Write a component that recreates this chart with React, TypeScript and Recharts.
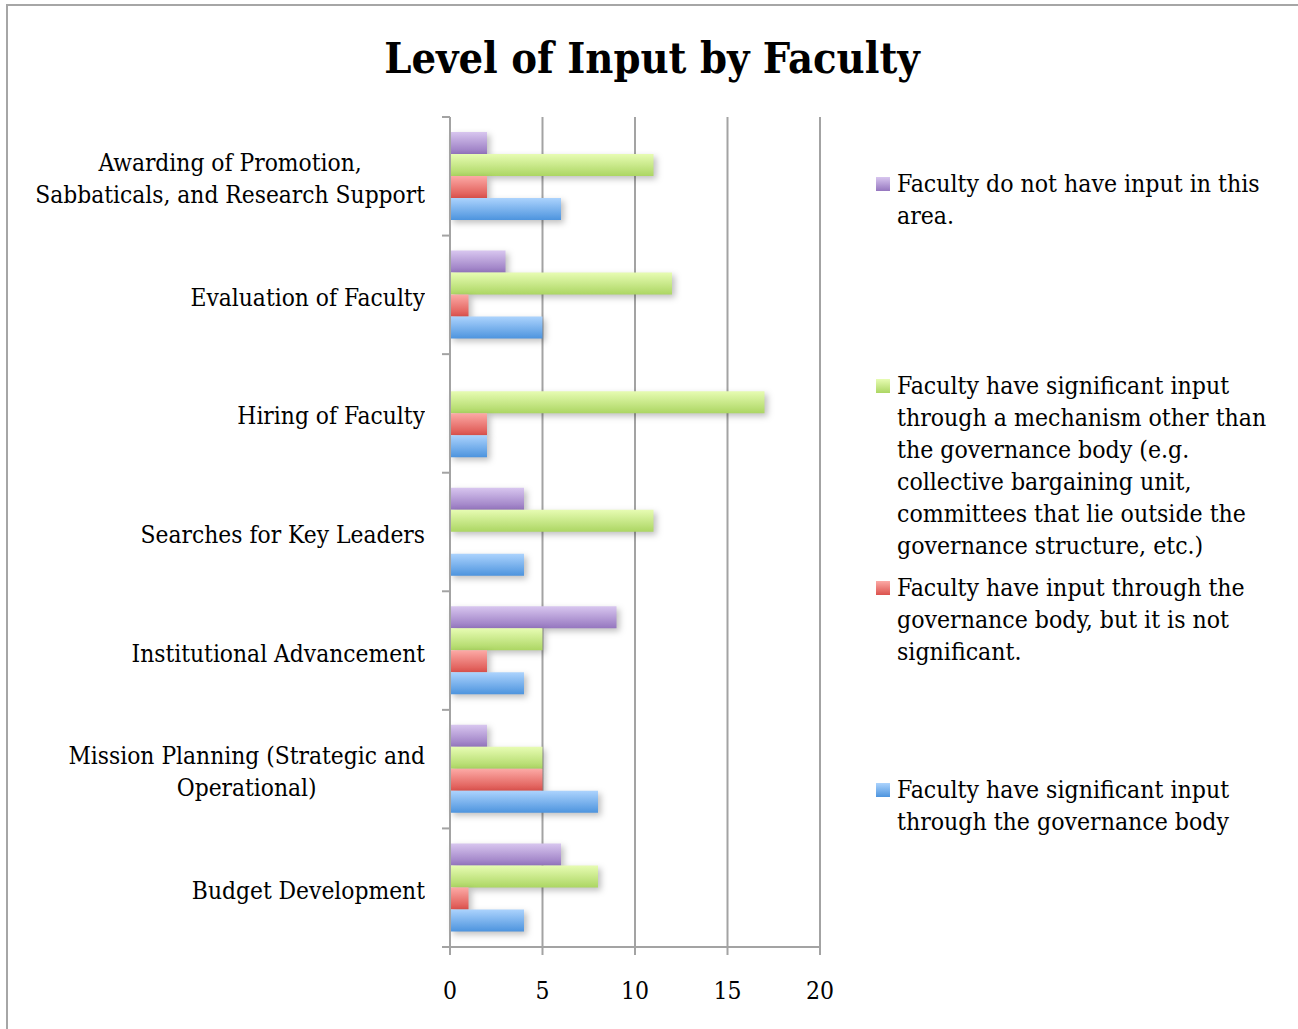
import React from 'react';
import { BarChart, Bar, XAxis, YAxis, CartesianGrid, Legend } from 'recharts';

// categories top to bottom, '\n' marks the label line break
const categories = [
  'Awarding of Promotion,\nSabbaticals, and Research Support',
  'Evaluation of Faculty',
  'Hiring of Faculty',
  'Searches for Key Leaders',
  'Institutional Advancement',
  'Mission Planning (Strategic and\nOperational)',
  'Budget Development',
];

const noInput = [2, 3, 0, 4, 9, 2, 6];
const otherMechanism = [11, 12, 17, 11, 5, 5, 8];
const notSignificant = [2, 1, 2, 0, 2, 5, 1];
const governanceBody = [6, 5, 2, 4, 4, 8, 4];

const xTicks = [0, 5, 10, 15, 20];

const seriesKeys = ['noInput', 'otherMechanism', 'notSignificant', 'governanceBody'];
const seriesNames = [
  'Faculty do not have input in this\narea.',
  'Faculty have significant input\nthrough a mechanism other than\nthe governance body (e.g.\ncollective bargaining unit,\ncommittees that lie outside the\ngovernance structure, etc.)',
  'Faculty have input through the\ngovernance body, but it is not\nsignificant.',
  'Faculty have significant input\nthrough the governance body',
];

const data = categories.map((name, i) => ({
  name,
  noInput: noInput[i],
  otherMechanism: otherMechanism[i],
  notSignificant: notSignificant[i],
  governanceBody: governanceBody[i],
}));

const FONT = '"DejaVu Serif Condensed", "DejaVu Serif", serif';
const GRID = '#a3a3a3';
const PLOT_TOP = 117;
const PLOT_BOTTOM = 947;
const BAND = (PLOT_BOTTOM - PLOT_TOP) / categories.length;

const gradients = [
  { id: 'gPurple', top: '#d8c6ef', bottom: '#9576bf' },
  { id: 'gGreen', top: '#e7fcb3', bottom: '#acd663' },
  { id: 'gRed', top: '#fcaaa6', bottom: '#dc524d' },
  { id: 'gBlue', top: '#acd3fd', bottom: '#4d94de' },
];

const CategoryTick = (props: any) => {
  const { x, y, payload, index } = props;
  const lines = String(payload.value).split('\n');
  return (
    <g>
      <line x1={x - 8} x2={x} y1={y - BAND / 2} y2={y - BAND / 2} stroke={GRID} strokeWidth={2} />
      {index === categories.length - 1 && (
        <line x1={x - 8} x2={x} y1={y + BAND / 2} y2={y + BAND / 2} stroke={GRID} strokeWidth={2} />
      )}
      <foreignObject x={0} y={y - 50} width={x - 25} height={100}>
        <div
          style={{
            height: '100%',
            display: 'flex',
            alignItems: 'center',
            justifyContent: 'flex-end',
            paddingTop: 6,
            boxSizing: 'border-box',
          }}
        >
          <div style={{ textAlign: 'center', fontFamily: FONT, fontSize: 24.3, lineHeight: '32px', color: '#000', whiteSpace: 'nowrap' }}>
            {lines.map((l, k) => (
              <div key={k}>{l}</div>
            ))}
          </div>
        </div>
      </foreignObject>
    </g>
  );
};

const renderLegend = (props: any) => {
  const { payload } = props;
  return (
    <div style={{ fontFamily: FONT, fontSize: 24.6, lineHeight: '32px', color: '#000' }}>
      {payload.map((entry: any, i: number) => {
        const g = gradients[seriesKeys.indexOf(entry.dataKey)];
        return (
          <div key={i} style={{ height: 202, display: 'flex', alignItems: 'flex-start' }}>
            <div
              style={{
                width: 14,
                height: 14,
                marginTop: 9,
                marginRight: 7,
                flex: 'none',
                background: `linear-gradient(${g.top}, ${g.bottom})`,
              }}
            />
            <div style={{ whiteSpace: 'nowrap' }}>
              {String(entry.value)
                .split('\n')
                .map((l, k) => (
                  <div key={k}>{l}</div>
                ))}
            </div>
          </div>
        );
      })}
    </div>
  );
};

export default function App() {
  return (
    <div>
      <style>{`.recharts-bar-rectangle path { filter: drop-shadow(3px 3px 3px rgba(0,0,0,0.25)); }`}</style>
      <div
        style={{
          position: 'absolute',
          left: 6,
          top: 4,
          width: 1310,
          height: 1040,
          border: '2px solid #a6a6a6',
          boxSizing: 'border-box',
          background: '#fff',
        }}
      />
      <div
        style={{
          position: 'absolute',
          left: 0,
          top: 37,
          width: 1304,
          textAlign: 'center',
          fontFamily: FONT,
          fontWeight: 'bold',
          fontSize: 43,
          lineHeight: 1,
          color: '#000',
        }}
      >
        Level of Input by Faculty
      </div>
      <div style={{ position: 'absolute', left: 0, top: 0 }}>
        <BarChart
          layout="vertical"
          width={1298}
          height={1029}
          data={data}
          margin={{ top: PLOT_TOP, right: 478, bottom: 1029 - PLOT_BOTTOM - 60, left: 0 }}
          barSize={22}
          barGap={0}
        >
          <defs>
            {gradients.map((g) => (
              <linearGradient key={g.id} id={g.id} x1="0" y1="0" x2="0" y2="1">
                <stop offset="0%" stopColor={g.top} />
                <stop offset="100%" stopColor={g.bottom} />
              </linearGradient>
            ))}
          </defs>
          <CartesianGrid horizontal={false} stroke={GRID} strokeWidth={2} />
          <XAxis
            type="number"
            domain={[0, 20]}
            ticks={xTicks}
            height={60}
            tickSize={8}
            tickMargin={27}
            axisLine={{ stroke: GRID, strokeWidth: 2 }}
            tickLine={{ stroke: GRID, strokeWidth: 2 }}
            tick={{ fill: '#000', fontSize: 24.5, fontFamily: FONT }}
          />
          <YAxis
            type="category"
            dataKey="name"
            width={450}
            tickSize={0}
            tickMargin={0}
            interval={0}
            axisLine={{ stroke: GRID, strokeWidth: 2 }}
            tickLine={false}
            tick={<CategoryTick />}
          />
          <Legend
            content={renderLegend}
            itemSorter={(item: any) => seriesKeys.indexOf(item.dataKey)}
            wrapperStyle={{ position: 'absolute', left: 876, top: 168, width: 420, height: 0, overflow: 'visible' }}
          />
          <Bar dataKey="noInput" name={seriesNames[0]} fill="url(#gPurple)" isAnimationActive={false} />
          <Bar dataKey="otherMechanism" name={seriesNames[1]} fill="url(#gGreen)" isAnimationActive={false} />
          <Bar dataKey="notSignificant" name={seriesNames[2]} fill="url(#gRed)" isAnimationActive={false} />
          <Bar dataKey="governanceBody" name={seriesNames[3]} fill="url(#gBlue)" isAnimationActive={false} />
        </BarChart>
      </div>
    </div>
  );
}
